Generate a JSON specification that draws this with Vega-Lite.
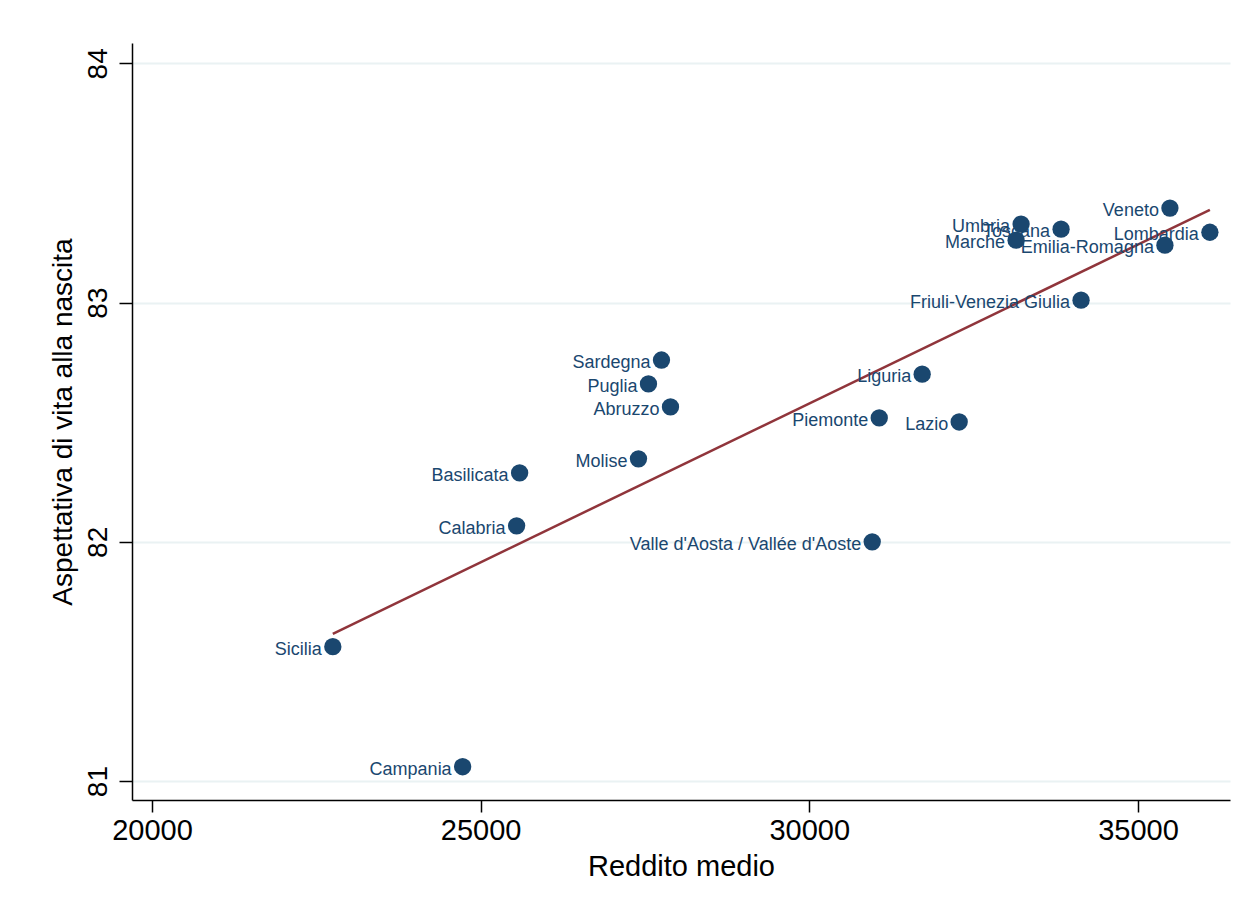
{
  "$schema": "https://vega.github.io/schema/vega-lite/v6.json",
  "width": 1098,
  "height": 757,
  "autosize": {"type": "none"},
  "padding": {"left": 132, "top": 43, "right": 16, "bottom": 121},
  "background": "white",
  "config": {
    "view": {"stroke": null},
    "font": "Liberation Sans"
  },
  "data": {
    "values": [
      {"regione": "Veneto", "reddito": 35486, "vita": 83.395},
      {"regione": "Lombardia", "reddito": 36094, "vita": 83.294},
      {"regione": "Emilia-Romagna", "reddito": 35410, "vita": 83.240},
      {"regione": "Toscana", "reddito": 33830, "vita": 83.307},
      {"regione": "Umbria", "reddito": 33222, "vita": 83.328},
      {"regione": "Marche", "reddito": 33146, "vita": 83.261},
      {"regione": "Friuli-Venezia Giulia", "reddito": 34134, "vita": 83.010},
      {"regione": "Liguria", "reddito": 31717, "vita": 82.701},
      {"regione": "Lazio", "reddito": 32280, "vita": 82.501},
      {"regione": "Piemonte", "reddito": 31064, "vita": 82.518},
      {"regione": "Valle d'Aosta / Vallée d'Aoste", "reddito": 30957, "vita": 82.0},
      {"regione": "Sardegna", "reddito": 27751, "vita": 82.760},
      {"regione": "Puglia", "reddito": 27553, "vita": 82.660},
      {"regione": "Abruzzo", "reddito": 27888, "vita": 82.564},
      {"regione": "Molise", "reddito": 27401, "vita": 82.347},
      {"regione": "Basilicata", "reddito": 25593, "vita": 82.288},
      {"regione": "Calabria", "reddito": 25547, "vita": 82.067},
      {"regione": "Sicilia", "reddito": 22751, "vita": 81.562},
      {"regione": "Campania", "reddito": 24726, "vita": 81.060}
    ]
  },
  "encoding": {
    "x": {
      "field": "reddito",
      "type": "quantitative",
      "scale": {"domain": [19696, 36400], "nice": false, "zero": false},
      "axis": {
        "title": "Reddito medio",
        "values": [20000, 25000, 30000, 35000],
        "format": "d",
        "grid": false,
        "domainColor": "#000000",
        "domainWidth": 1.5,
        "tickColor": "#000000",
        "tickWidth": 1.5,
        "tickSize": 12,
        "labelFontSize": 29,
        "labelColor": "#000000",
        "labelPadding": 4,
        "labelFlush": false,
        "titleFontSize": 29,
        "titleFontWeight": "normal",
        "titleColor": "#000000",
        "titlePadding": 7
      }
    },
    "y": {
      "field": "vita",
      "type": "quantitative",
      "scale": {"domain": [80.921, 84.085], "nice": false, "zero": false},
      "axis": {
        "title": "Aspettativa di vita alla nascita",
        "values": [81, 82, 83, 84],
        "grid": true,
        "gridColor": "#eaf2f3",
        "gridWidth": 2,
        "domainColor": "#000000",
        "domainWidth": 1.5,
        "tickColor": "#000000",
        "tickWidth": 1.5,
        "tickSize": 13,
        "labelFontSize": 28,
        "labelColor": "#000000",
        "labelAngle": -90,
        "labelAlign": "center",
        "labelBaseline": "bottom",
        "labelPadding": 7,
        "labelFlush": false,
        "titleFontSize": 28,
        "titleFontWeight": "normal",
        "titleColor": "#000000",
        "titlePadding": 7
      }
    }
  },
  "layer": [
    {
      "transform": [{"regression": "vita", "on": "reddito"}],
      "mark": {"type": "line", "color": "#90353b", "strokeWidth": 2.5}
    },
    {
      "mark": {"type": "circle", "color": "#1a476f", "opacity": 1, "size": 300}
    },
    {
      "mark": {"type": "text", "align": "right", "baseline": "middle", "dx": -11, "dy": 3, "fontSize": 18, "color": "#1a476f"},
      "encoding": {"text": {"field": "regione"}}
    }
  ]
}
